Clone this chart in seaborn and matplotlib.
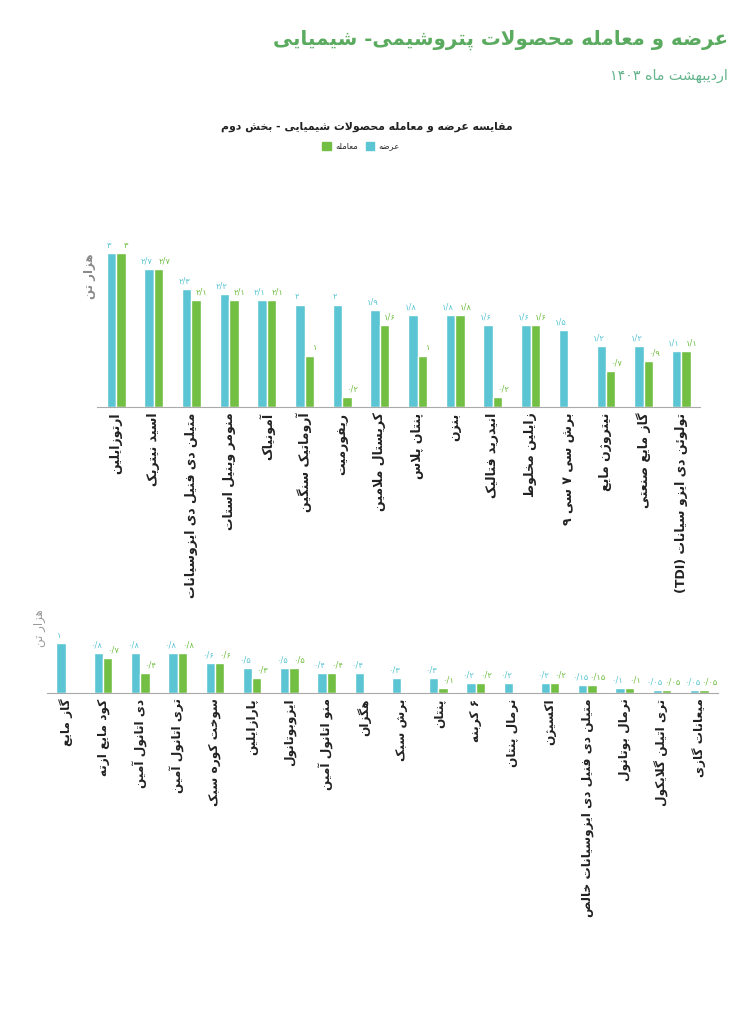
import re
import numpy as np
import pandas as pd
import matplotlib
matplotlib.use('Agg')
import matplotlib.pyplot as plt
from matplotlib.patches import Patch
import seaborn as sns

# داده‌ها - بخش بالا
cats_top = ["ارتوزایلین", "اسید نیتریک", "متیلن دی فنیل دی ایزوسیانات", "منومر وینیل استات",
            "آمونیاک", "آروماتیک سنگین", "ریفورمیت", "کریستال ملامین", "پنتان پلاس", "بنزن",
            "انیدرید فتالیک", "زایلین مخلوط", "برش سی ۷ سی ۹", "نیتروژن مایع", "گاز مایع صنعتی",
            "تولوئن دی ایزو سیانات (TDI)"]
supply_top = [3, 2.7, 2.3, 2.2, 2.1, 2, 2, 1.9, 1.8, 1.8, 1.6, 1.6, 1.5, 1.2, 1.2, 1.1]
trade_top = [3, 2.7, 2.1, 2.1, 2.1, 1, 0.2, 1.6, 1, 1.8, 0.2, 1.6, np.nan, 0.7, 0.9, 1.1]

# داده‌ها - بخش پایین
cats_bot = ["گاز مایع", "کود مایع ازته", "دی اتانول آمین", "تری اتانول آمین", "سوخت کوره سبک",
            "پارازایلین", "ایزوبوتانول", "منو اتانول آمین", "هگزان", "برش سبک", "پنتان", "۶ کربنه",
            "نرمال پنتان", "اکسیژن", "متیلن دی فنیل دی ایزوسیانات خالص", "نرمال بوتانول",
            "تری اتیلن گلایکول", "میعانات گازی"]
supply_bot = [1, 0.8, 0.8, 0.8, 0.6, 0.5, 0.5, 0.4, 0.4, 0.3, 0.3, 0.2, 0.2, 0.2, 0.15, 0.1, 0.05, 0.05]
trade_bot = [np.nan, 0.7, 0.4, 0.8, 0.6, 0.3, 0.5, 0.4, np.nan, np.nan, 0.1, 0.2, np.nan, 0.2, 0.15, 0.1, 0.05, 0.05]

series = ["عرضه", "معامله"]
BLUE = "#5bc5d3"
GREEN = "#72bf44"

# شکل‌دهی حروف فارسی (matplotlib خودش اتصال حروف را انجام نمی‌دهد)
DUAL = {'ب': 0xFE8F, 'ت': 0xFE95, 'ث': 0xFE99, 'ج': 0xFE9D, 'ح': 0xFEA1, 'خ': 0xFEA5,
        'س': 0xFEB1, 'ش': 0xFEB5, 'ص': 0xFEB9, 'ض': 0xFEBD, 'ط': 0xFEC1, 'ظ': 0xFEC5,
        'ع': 0xFEC9, 'غ': 0xFECD, 'ف': 0xFED1, 'ق': 0xFED5, 'ل': 0xFEDD, 'م': 0xFEE1,
        'ن': 0xFEE5, 'ه': 0xFEE9, 'ئ': 0xFE89, 'ی': 0xFBFC, 'ک': 0xFB8E, 'گ': 0xFB92,
        'پ': 0xFB56, 'چ': 0xFB7A}
RIGHT = {'ا': 0xFE8D, 'آ': 0xFE81, 'أ': 0xFE83, 'د': 0xFEA9, 'ذ': 0xFEAB, 'ر': 0xFEAD,
         'ز': 0xFEAF, 'ژ': 0xFB8A, 'و': 0xFEED}
LAM_ALEF = {'ا': 0xFEFB, 'آ': 0xFEF5, 'أ': 0xFEF7}
MIRROR = str.maketrans('()', ')(')


def shape(s):
    out = []
    i = 0
    while i < len(s):
        c = s[i]
        prev = s[i - 1] if i > 0 else ''
        nxt = s[i + 1] if i + 1 < len(s) else ''
        jp = prev in DUAL and (c in DUAL or c in RIGHT)
        if c == 'ل' and nxt in LAM_ALEF:
            out.append(chr(LAM_ALEF[nxt] + int(jp)))
            i += 2
            continue
        if c in DUAL:
            jn = nxt in DUAL or nxt in RIGHT
            out.append(chr(DUAL[c] + [[0, 2], [1, 3]][jp][jn]))
        elif c in RIGHT:
            out.append(chr(RIGHT[c] + int(jp)))
        else:
            out.append(c)
        i += 1
    return ''.join(out)


def fa(s):
    parts = re.split(r'([A-Za-z0-9۰-۹/.]+)', shape(s))
    vis = [p if k % 2 else p[::-1].translate(MIRROR) for k, p in enumerate(parts)]
    return ''.join(vis[::-1])


def fa_num(v):
    return '{:g}'.format(v).translate(str.maketrans('0123456789.', '۰۱۲۳۴۵۶۷۸۹/'))


def draw(ax, cats, supply, trade, ymax, fs):
    df = pd.DataFrame({'cat': [fa(c) for c in cats] * 2,
                       'val': list(supply) + list(trade),
                       'type': [fa(series[0])] * len(cats) + [fa(series[1])] * len(cats)})
    order = [fa(c) for c in cats]
    df = df.dropna()
    sns.barplot(data=df, x='cat', y='val', hue='type', order=order,
                hue_order=[fa(s) for s in series], palette=[BLUE, GREEN],
                width=0.5, saturation=1, errorbar=None, legend=False, ax=ax)
    # برچسب مقادیر، کمی به بیرون از هر گروه
    for cont, col, dx in zip(ax.containers, [BLUE, GREEN], [-1.8, 4]):
        for bar in cont:
            h = bar.get_height()
            if np.isnan(h):
                continue
            ax.annotate(fa_num(h), (bar.get_x() + bar.get_width() / 2, h),
                        xytext=(dx, 2.5), textcoords='offset points',
                        ha='center', va='bottom', fontsize=6, color=col)
    ax.set_ylim(0, ymax)
    ax.set_xlim(-0.5, len(cats) - 0.5)
    ax.set_xlabel('')
    ax.set_ylabel('')
    ax.set_yticks([])
    ax.tick_params(axis='x', length=0, pad=4)
    ax.set_xticks(range(len(cats)))
    ax.set_xticklabels(order, rotation=90, ha='center', va='top', fontsize=fs,
                       fontweight='bold', color='#222222')
    sns.despine(ax=ax, left=True)
    ax.spines['bottom'].set_color('#aaaaaa')


sns.set_style('white')
plt.rcParams['font.family'] = ['DejaVu Sans']

fig = plt.figure(figsize=(7.37, 10.24), dpi=100)

ax1 = fig.add_axes([0.132, 0.6025, 0.818, 0.16])
draw(ax1, cats_top, supply_top, trade_top, 3.2, 9)

ax2 = fig.add_axes([0.064, 0.3233, 0.91, 0.056])
draw(ax2, cats_bot, supply_bot, trade_bot, 1.15, 8.7)

fig.text(0.988, 0.961, fa("عرضه و معامله محصولات پتروشیمی- شیمیایی"), ha='right', va='center',
         fontsize=14.2, fontweight='bold', color='#5aaa5f')
fig.text(0.988, 0.926, fa("اردیبهشت ماه ۱۴۰۳"), ha='right', va='center',
         fontsize=10.3, color='#62b48c')
fig.text(0.498, 0.876, fa("مقایسه عرضه و معامله محصولات شیمیایی - بخش دوم"), ha='center',
         va='center', fontsize=7.8, fontweight='bold', color='#222222')

fig.text(0.122, 0.730, fa("هزار تن"), rotation=90, ha='center', va='center',
         fontsize=8.5, fontweight='bold', color='#8a8a8a')
fig.text(0.054, 0.387, fa("هزار تن"), rotation=90, ha='center', va='center',
         fontsize=8.5, color='#9a9a9a')

handles = [Patch(color=GREEN), Patch(color=BLUE)]
fig.legend(handles, [fa(series[1]), fa(series[0])], loc='center', ncol=2,
           bbox_to_anchor=(0.49, 0.857), frameon=False, fontsize=6,
           handlelength=1.0, handleheight=1.0, handletextpad=0.5, columnspacing=1.0)

fig.savefig('out.png', dpi=100, facecolor='white')
